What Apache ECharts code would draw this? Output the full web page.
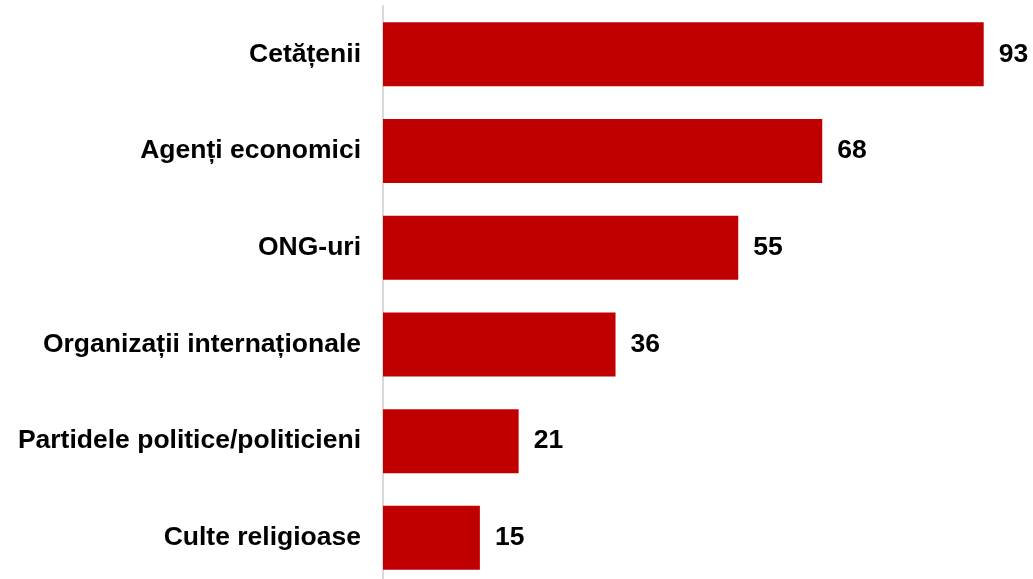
<!DOCTYPE html>
<html>
<head>
<meta charset="utf-8">
<script src="https://cdn.jsdelivr.net/npm/echarts@6/dist/echarts.min.js"></script>
<style>
html,body{margin:0;padding:0;background:#fff;}
#chart{width:1033px;height:579px;}
</style>
</head>
<body>
<div id="chart"></div>
<script>
const categories = ["Cetățenii", "Agenți economici", "ONG-uri", "Organizații internaționale", "Partidele politice/politicieni", "Culte religioase"];
const values = [93, 68, 55, 36, 21, 15];

const chart = echarts.init(document.getElementById('chart'), null, {renderer: 'canvas'});
chart.setOption({
  animation: false,
  backgroundColor: '#ffffff',
  grid: {left: 383, top: 6, width: 600.7, height: 580.2, containLabel: false, outerBoundsMode: 'none'},
  xAxis: {
    type: 'value', min: 0, max: 93, show: false
  },
  yAxis: {
    type: 'category', data: categories, inverse: true,
    axisLine: {show: true, lineStyle: {color: '#d9d9d9', width: 2}},
    axisTick: {show: false},
    axisLabel: {
      margin: 22, color: '#000', fontSize: 26.5, fontWeight: 'bold',
      fontFamily: '"Liberation Sans", Arial, sans-serif'
    },
    splitLine: {show: false}
  },
  series: [{
    type: 'bar', data: values, barWidth: 64,
    itemStyle: {color: '#c00000'},
    label: {
      show: true, position: 'right', distance: 15, color: '#000',
      fontSize: 26.5, fontWeight: 'bold',
      fontFamily: '"Liberation Sans", Arial, sans-serif'
    }
  }]
});
</script>
</body>
</html>
